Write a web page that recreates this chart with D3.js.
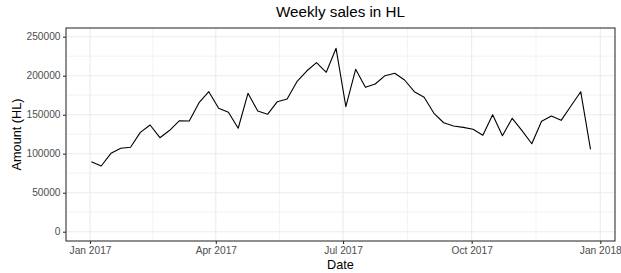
<!DOCTYPE html>
<html>
<head>
<meta charset="utf-8">
<script src="https://cdn.jsdelivr.net/npm/d3@7"></script>
<style>
  body { margin: 0; background: #fff; }
  text { font-family: "Liberation Sans", Arial, sans-serif; }
</style>
</head>
<body>
<div id="chart"></div>
<script>
// weekly sales, Mondays of 2017
const weeks = d3.timeMonday.range(new Date(2017, 0, 2), new Date(2017, 11, 26));
const amounts = [
  89700, 84200, 100500, 106900, 108200, 127400, 136800, 120500, 130000, 142300,
  141900, 165400, 179500, 158200, 153100, 132600, 177400, 154700, 150500, 166700,
  170100, 192300, 206000, 216700, 204400, 235100, 160300, 208200, 185100, 189400,
  200000, 203100, 194500, 179500, 172300, 151800, 139700, 135500, 133800, 131300,
  123600, 150000, 123100, 145400, 129500, 112800, 141500, 148300, 142800, 161200,
  179500, 105600
];
const yTicks = [0, 50000, 100000, 150000, 200000, 250000];
const xTicks = [new Date(2017, 0, 1), new Date(2017, 3, 1), new Date(2017, 6, 1),
                new Date(2017, 9, 1), new Date(2018, 0, 1)];

const width = 621, height = 273;
const panel = { left: 66, right: 615, top: 28, bottom: 241 };

const svg = d3.select('#chart').append('svg')
  .attr('width', width)
  .attr('height', height);

const x = d3.scaleTime()
  .domain([new Date(2017, 0, 1), new Date(2018, 0, 1)])
  .range([90, 600.3]);
const y = d3.scaleLinear()
  .domain([0, 250000])
  .range([231.7, 36.7]);

// minor grid
const xMinor = d3.pairs(xTicks).map(p => new Date((+p[0] + +p[1]) / 2));
const yMinor = d3.pairs(yTicks).map(p => (p[0] + p[1]) / 2);

const grid = svg.append('g').attr('class', 'grid');
grid.selectAll('.xminor').data(xMinor).enter().append('line')
  .attr('x1', d => x(d)).attr('x2', d => x(d))
  .attr('y1', panel.top).attr('y2', panel.bottom)
  .attr('stroke', '#ebebeb').attr('stroke-width', 0.6);
grid.selectAll('.yminor').data(yMinor).enter().append('line')
  .attr('y1', d => y(d)).attr('y2', d => y(d))
  .attr('x1', panel.left).attr('x2', panel.right)
  .attr('stroke', '#ebebeb').attr('stroke-width', 0.6);
grid.selectAll('.xmajor').data(xTicks).enter().append('line')
  .attr('x1', d => x(d)).attr('x2', d => x(d))
  .attr('y1', panel.top).attr('y2', panel.bottom)
  .attr('stroke', '#ebebeb').attr('stroke-width', 1.1);
grid.selectAll('.ymajor').data(yTicks).enter().append('line')
  .attr('y1', d => y(d)).attr('y2', d => y(d))
  .attr('x1', panel.left).attr('x2', panel.right)
  .attr('stroke', '#ebebeb').attr('stroke-width', 1.1);

// line
const line = d3.line()
  .x((d, i) => x(weeks[i]))
  .y(d => y(d));
svg.append('path')
  .datum(amounts)
  .attr('fill', 'none')
  .attr('stroke', '#000')
  .attr('stroke-width', 1.1)
  .attr('stroke-linejoin', 'round')
  .attr('d', line);

// panel border
svg.append('rect')
  .attr('x', panel.left).attr('y', panel.top)
  .attr('width', panel.right - panel.left)
  .attr('height', panel.bottom - panel.top)
  .attr('fill', 'none')
  .attr('stroke', '#333333')
  .attr('stroke-width', 1.1);

// axes
const xAxis = svg.append('g')
  .attr('transform', `translate(0,${panel.bottom})`)
  .call(d3.axisBottom(x).tickValues(xTicks).tickFormat(d3.timeFormat('%b %Y'))
    .tickSize(3).tickPadding(2.5));
const yAxis = svg.append('g')
  .attr('transform', `translate(${panel.left},0)`)
  .call(d3.axisLeft(y).tickValues(yTicks).tickFormat(d3.format('d'))
    .tickSize(3).tickPadding(2.5));

[xAxis, yAxis].forEach(a => {
  a.select('.domain').remove();
  a.selectAll('.tick line').attr('stroke', '#333333').attr('stroke-width', 1.1);
  a.selectAll('.tick text')
    .attr('fill', '#4d4d4d')
    .style('font-size', '10.2px')
    .style('font-family', '"Liberation Sans", Arial, sans-serif');
});

// titles
svg.append('text')
  .attr('x', (panel.left + panel.right) / 2)
  .attr('y', 17)
  .attr('text-anchor', 'middle')
  .style('font-size', '15.2px')
  .attr('fill', '#000')
  .text('Weekly sales in HL');

svg.append('text')
  .attr('x', (panel.left + panel.right) / 2)
  .attr('y', 269)
  .attr('text-anchor', 'middle')
  .style('font-size', '12.7px')
  .attr('fill', '#000')
  .text('Date');

svg.append('text')
  .attr('transform', `translate(21,${(panel.top + panel.bottom) / 2}) rotate(-90)`)
  .attr('text-anchor', 'middle')
  .style('font-size', '12.7px')
  .attr('fill', '#000')
  .text('Amount (HL)');
</script>
</body>
</html>
